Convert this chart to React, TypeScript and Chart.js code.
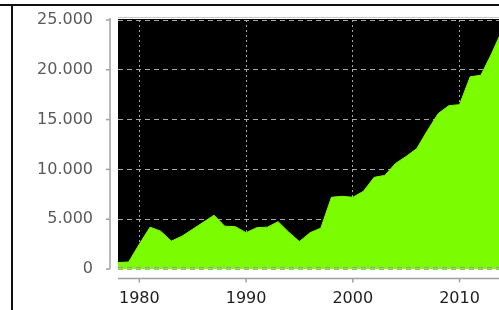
import React, { useEffect, useRef } from 'react';
import { Chart, registerables } from 'chart.js';

Chart.register(...registerables);

const years = [
  1978, 1979, 1980, 1981, 1982, 1983, 1984, 1985, 1986, 1987,
  1988, 1989, 1990, 1991, 1992, 1993, 1994, 1995, 1996, 1997,
  1998, 1999, 2000, 2001, 2002, 2003, 2004, 2005, 2006, 2007,
  2008, 2009, 2010, 2011, 2012, 2013, 2014,
];
const values = [
  650, 700, 2500, 4200, 3800, 2800, 3300, 4000, 4700, 5400,
  4300, 4250, 3650, 4150, 4200, 4750, 3700, 2750, 3650, 4100,
  7200, 7300, 7200, 7800, 9200, 9400, 10600, 11300, 12100, 13900,
  15600, 16400, 16500, 19300, 19450, 21600, 24000,
];
const yTicks = [0, 5000, 10000, 15000, 20000, 25000];
const xTicks = [1980, 1990, 2000, 2010];

const fmt = (v: number) => String(v).replace(/\B(?=(\d{3})+(?!\d))/g, '.');

const axesPlugin = {
  id: 'offsetAxes',
  beforeDraw(chart: any) {
    const { ctx, chartArea: a } = chart;
    ctx.save();
    ctx.fillStyle = '#000000';
    ctx.fillRect(a.left, a.top - 1, a.right - a.left, a.bottom - a.top + 1);
    ctx.strokeStyle = '#c8c8c8';
    ctx.lineWidth = 1;
    ctx.beginPath();
    ctx.moveTo(a.left, a.top - 2.5);
    ctx.lineTo(a.right, a.top - 2.5);
    ctx.stroke();
    ctx.restore();
  },
  afterDatasetsDraw(chart: any) {
    const { ctx, chartArea: a } = chart;
    const py = chart.scales.y.getPixelForValue(0);
    ctx.save();
    ctx.strokeStyle = '#9a9a9a';
    ctx.lineWidth = 1;
    ctx.setLineDash([5, 4]);
    ctx.beginPath();
    ctx.moveTo(a.left, Math.round(py) - 1.5);
    ctx.lineTo(a.right, Math.round(py) - 1.5);
    ctx.stroke();
    ctx.restore();
  },
  afterDraw(chart: any) {
    const { ctx, chartArea: a } = chart;
    const ys = chart.scales.y;
    const xs = chart.scales.x;
    ctx.save();
    ctx.strokeStyle = '#a0a0a0';
    ctx.lineWidth = 1.5;
    const ax = a.left - 8;
    ctx.beginPath();
    ctx.moveTo(ax, a.top - 2);
    ctx.lineTo(ax, a.bottom);
    ctx.stroke();
    yTicks.forEach((v) => {
      const p = ys.getPixelForValue(v);
      ctx.beginPath();
      ctx.moveTo(ax - 4, p);
      ctx.lineTo(ax, p);
      ctx.stroke();
    });
    const ay = a.bottom + 9.5;
    ctx.beginPath();
    ctx.moveTo(a.left, ay);
    ctx.lineTo(a.right, ay);
    ctx.stroke();
    xTicks.forEach((v) => {
      const p = xs.getPixelForValue(v);
      ctx.beginPath();
      ctx.moveTo(p, ay);
      ctx.lineTo(p, ay + 4);
      ctx.stroke();
    });
    ctx.restore();
  },
};

export default function App() {
  const ref = useRef<HTMLCanvasElement | null>(null);

  useEffect(() => {
    document.body.style.margin = '0';
    const canvas = ref.current;
    if (!canvas) return;
    const chart = new Chart(canvas, {
      type: 'line',
      data: {
        datasets: [
          {
            data: years.map((y, i) => ({ x: y, y: values[i] })),
            fill: 'origin',
            backgroundColor: '#7CFC00',
            borderColor: '#7CFC00',
            borderWidth: 1,
            pointRadius: 0,
            tension: 0,
          },
        ],
      },
      options: {
        animation: false,
        responsive: false,
        layout: { padding: { top: 20, left: 0, right: 0, bottom: 0 } },
        plugins: { legend: { display: false }, tooltip: { enabled: false } },
        scales: {
          x: {
            type: 'linear',
            min: 1978,
            max: 2013.7,
            afterBuildTicks: (s: any) => {
              s.ticks = xTicks.map((v) => ({ value: v }));
            },
            afterFit: (s: any) => {
              s.height = 41;
              s.paddingLeft = 0;
              s.paddingRight = 0;
              s.paddingTop = 0;
              s.paddingBottom = 0;
            },
            ticks: {
              autoSkip: false,
              maxRotation: 0,
              padding: 20,
              color: '#1e1e1e',
              font: { family: 'DejaVu Sans', size: 16 },
              callback: (v: any) => String(v),
            },
            grid: { color: '#a8a8a8', lineWidth: 1, drawTicks: false },
            border: { display: false, dash: [2, 3] },
          },
          y: {
            min: 0,
            max: 25000,
            afterBuildTicks: (s: any) => {
              s.ticks = yTicks.map((v) => ({ value: v }));
            },
            afterFit: (s: any) => {
              s.width = 118;
              s.paddingLeft = 0;
              s.paddingRight = 0;
              s.paddingTop = 0;
              s.paddingBottom = 0;
            },
            ticks: {
              padding: 25,
              color: '#5a5a5a',
              font: { family: 'DejaVu Sans', size: 16 },
              callback: (v: any) => fmt(Number(v)),
            },
            grid: { color: '#a8a8a8', lineWidth: 1, drawTicks: false },
            border: { display: false, dash: [5, 4] },
          },
        },
      },
      plugins: [axesPlugin],
    });
    return () => chart.destroy();
  }, []);

  return (
    <div style={{ position: 'relative', width: 499, height: 310, overflow: 'hidden', background: '#fff' }}>
      <canvas ref={ref} width={499} height={310} style={{ display: 'block', width: 499, height: 310 }} />
      <div style={{ position: 'absolute', left: 0, top: 4, width: 499, height: 2, background: '#111' }} />
      <div style={{ position: 'absolute', left: 11, top: 4, width: 2, height: 306, background: '#111' }} />
    </div>
  );
}
